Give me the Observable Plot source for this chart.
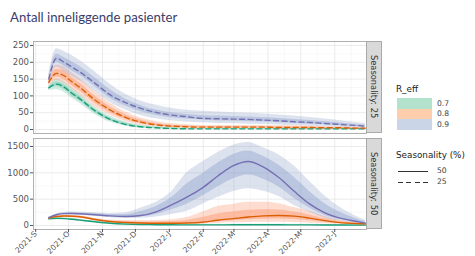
<!DOCTYPE html>
<html>
<head>
<meta charset="utf-8">
<script src="https://cdn.jsdelivr.net/npm/d3@7"></script>
<script src="https://cdn.jsdelivr.net/npm/@observablehq/plot@0.6"></script>
<style>
  html, body { margin: 0; padding: 0; background: #fff; }
  #wrap { position: relative; width: 475px; height: 256px; overflow: hidden; font-family: "DejaVu Sans", sans-serif; }
  .abs { position: absolute; }
  #title { left: 10px; top: 9px; font-family: "Lato", sans-serif; font-size: 13.2px; color: #3b3d6c; white-space: nowrap; }
  .strip { background: #d9d9d9; border: 1px solid #a9a9a9; box-sizing: border-box; writing-mode: vertical-rl; display: flex; align-items: center; justify-content: center; font-size: 8.3px; color: #333; }
  .lgtitle { font-size: 8.8px; color: #222; white-space: nowrap; }
  .lglab { font-size: 7.6px; color: #444; white-space: nowrap; }
  .sw { width: 35px; height: 10.7px; }
</style>
</head>
<body>
<div id="wrap"></div>
<script>
// ---- data ----
const dates = ["2021-09-13","2021-09-20","2021-09-27","2021-10-04","2021-10-11","2021-10-25","2021-11-08","2021-11-22","2021-12-06","2021-12-20","2022-01-03","2022-01-17","2022-01-31","2022-02-14","2022-02-28","2022-03-14","2022-03-28","2022-04-11","2022-04-25","2022-05-09","2022-05-23","2022-06-06","2022-06-20","2022-06-29"];
const seasonality = [25, 50];
const rEff = ["0.7", "0.8", "0.9"];
const lineColors = ["#1b9e77", "#d95f02", "#7570b3"];
const bandColors = ["#66c2a5", "#fc8d62", "#8da0cb"];
const legendColors = ["#b3e2cd", "#fdcdac", "#cbd5e8"];
const yTicksTop = [0, 50, 100, 150, 200, 250];
const yMinorTop = [25, 75, 125, 175, 225];
const yTicksBottom = [0, 500, 1000, 1500];
const yMinorBottom = [250, 750, 1250];
const xTickDates = ["2021-09-01","2021-10-01","2021-11-01","2021-12-01","2022-01-01","2022-02-01","2022-03-01","2022-04-01","2022-05-01","2022-06-01"];
const xTickLabels = ["2021-S","2021-O","2021-N","2021-D","2022-J","2022-F","2022-M","2022-A","2022-M","2022-J"];
const xMinorDates = ["2021-09-16","2021-10-16","2021-11-16","2021-12-16","2022-01-16","2022-02-15","2022-03-16","2022-04-16","2022-05-16","2022-06-16"];

// Seasonality 25
const s25_r07_med  = [124,135,126,108,92,56,30,15,8,5,3,2,2,2,2,2,2,2,2,2,2,2,2,2];
const s25_r07_hi90 = [130,150,142,124,107,68,40,22,13,9,6,5,4,4,4,4,4,4,4,4,4,3,3,3];
const s25_r07_lo90 = [116,118,110,93,78,45,22,10,4,2,1,1,1,0,0,0,0,0,0,0,0,0,0,0];
const s25_r07_hi50 = [127,142,134,116,100,62,35,19,10,7,4,3,3,3,3,3,3,3,3,3,3,3,3,3];
const s25_r07_lo50 = [120,128,118,100,85,50,26,12,6,3,2,1,1,1,1,1,1,1,1,1,1,1,1,1];

const s25_r08_med  = [140,167,160,142,126,88,58,36,22,14,10,8,7,7,7,7,7,6,6,6,5,5,4,4];
const s25_r08_hi90 = [150,192,186,168,152,112,78,52,34,23,17,14,12,12,12,12,12,11,11,10,9,8,7,6];
const s25_r08_lo90 = [130,145,137,120,104,68,42,24,13,8,5,4,3,3,3,3,3,2,2,2,2,2,1,1];
const s25_r08_hi50 = [145,179,173,155,139,100,68,44,28,18,13,11,9,9,9,9,9,8,8,8,7,6,5,5];
const s25_r08_lo50 = [135,156,148,131,115,78,50,30,17,11,7,6,5,5,5,5,5,4,4,4,3,3,3,3];

const s25_r09_med  = [150,212,200,186,172,138,103,80,63,51,43,38,33,32,31,30,28,26,23,21,18,15,12,10];
const s25_r09_hi90 = [165,240,232,220,206,172,135,105,85,72,63,57,54,52,50,48,46,43,40,36,31,26,21,18];
const s25_r09_lo90 = [138,185,172,158,146,112,80,58,42,32,26,22,20,18,17,16,15,13,12,10,9,7,6,5];
const s25_r09_hi50 = [156,224,214,202,188,154,118,90,71,58,50,45,42,40,39,37,35,33,30,27,23,19,15,13];
const s25_r09_lo50 = [145,200,188,175,162,128,93,70,53,42,35,31,28,26,25,24,22,20,18,16,14,11,9,7];

// Seasonality 50
const s50_r07_med  = [126,136,130,118,103,70,42,26,18,15,13,12,12,12,13,13,13,13,12,11,10,9,8,7];
const s50_r07_hi90 = [132,150,146,134,120,86,56,38,30,26,24,23,23,24,25,26,26,25,24,22,20,18,16,14];
const s50_r07_lo90 = [120,122,114,102,88,56,30,16,9,7,5,5,5,5,5,5,5,5,4,4,4,3,3,3];
const s50_r07_hi50 = [129,143,138,126,111,78,49,32,24,20,18,17,17,18,19,19,19,19,18,16,15,13,12,10];
const s50_r07_lo50 = [123,129,122,110,95,63,36,21,13,10,9,8,8,8,8,8,8,8,7,7,6,6,5,4];

const s50_r08_med  = [142,170,180,176,165,115,76,58,48,44,44,48,62,100,130,160,182,190,178,140,92,55,38,30];
const s50_r08_hi90 = [150,184,198,196,186,140,100,95,90,95,110,150,250,360,400,440,440,415,340,270,170,100,60,45];
const s50_r08_lo90 = [134,156,162,156,144,94,56,40,30,26,24,26,30,40,50,58,62,62,56,45,32,22,16,12];
const s50_r08_hi50 = [146,177,189,186,175,128,88,76,68,67,75,95,150,220,255,290,300,295,255,200,128,76,48,37];
const s50_r08_lo50 = [138,163,171,166,155,104,66,49,39,35,34,37,46,70,90,108,120,125,115,92,62,38,27,21];

const s50_r09_med  = [150,205,225,228,222,205,182,172,190,260,390,540,710,935,1130,1215,1110,910,650,410,240,140,80,45];
const s50_r09_hi90 = [158,220,246,254,252,244,228,240,330,440,640,1000,1200,1380,1520,1575,1470,1340,1130,840,560,340,180,100];
const s50_r09_lo90 = [142,190,204,204,194,172,146,135,140,160,210,270,400,530,640,700,650,550,380,250,140,85,50,30];
const s50_r09_hi50 = [154,213,236,242,238,226,207,209,267,360,530,790,980,1180,1345,1415,1310,1145,915,645,415,250,135,75];
const s50_r09_lo50 = [146,198,215,216,208,189,164,154,165,210,300,405,555,730,885,960,880,730,515,330,190,112,65,38];

const seriesTable = {
  25: {"0.7": [s25_r07_med, s25_r07_lo90, s25_r07_hi90, s25_r07_lo50, s25_r07_hi50],
       "0.8": [s25_r08_med, s25_r08_lo90, s25_r08_hi90, s25_r08_lo50, s25_r08_hi50],
       "0.9": [s25_r09_med, s25_r09_lo90, s25_r09_hi90, s25_r09_lo50, s25_r09_hi50]},
  50: {"0.7": [s50_r07_med, s50_r07_lo90, s50_r07_hi90, s50_r07_lo50, s50_r07_hi50],
       "0.8": [s50_r08_med, s50_r08_lo90, s50_r08_hi90, s50_r08_lo50, s50_r08_hi50],
       "0.9": [s50_r09_med, s50_r09_lo90, s50_r09_hi90, s50_r09_lo50, s50_r09_hi50]}
};

function rowsFor(s, r) {
  const [med, lo90, hi90, lo50, hi50] = seriesTable[s][r];
  return dates.map((d, i) => ({date: new Date(d), med: med[i], lo90: lo90[i], hi90: hi90[i], lo50: lo50[i], hi50: hi50[i]}));
}

const xDomain = [new Date("2021-08-30"), new Date("2022-06-30")];
const curve = "monotone-x";

function panel(s, cfg) {
  const marks = [
    Plot.ruleY(cfg.minor, {stroke: "#f3f3f3", strokeWidth: 0.6}),
    Plot.ruleX(xMinorDates.map(d => new Date(d)), {stroke: "#f3f3f3", strokeWidth: 0.6}),
    Plot.ruleY(cfg.ticks, {stroke: "#e6e6e6", strokeWidth: 0.8}),
    Plot.ruleX(xTickDates.map(d => new Date(d)), {stroke: "#e6e6e6", strokeWidth: 0.8})
  ];
  rEff.forEach((r, k) => {
    const rows = rowsFor(s, r);
    marks.push(Plot.areaY(rows, {x: "date", y1: "lo90", y2: "hi90", fill: bandColors[k], fillOpacity: 0.3, curve, clip: true}));
    marks.push(Plot.areaY(rows, {x: "date", y1: "lo50", y2: "hi50", fill: bandColors[k], fillOpacity: 0.42, curve, clip: true}));
  });
  rEff.forEach((r, k) => {
    const rows = rowsFor(s, r);
    marks.push(Plot.lineY(rows, {x: "date", y: "med", stroke: lineColors[k], strokeWidth: 1.4,
      strokeDasharray: s === 25 ? "5,3.5" : null, curve, clip: true}));
  });
  marks.push(Plot.frame({stroke: "#a9a9a9", strokeWidth: 0.9}));
  marks.push(Plot.axisY({ticks: cfg.ticks, tickFormat: d => String(d), tickSize: 3, tickPadding: 1.5, fontSize: 8.5, label: null, color: "#555"}));
  if (cfg.xaxis) {
    marks.push(Plot.axisX({ticks: xTickDates.map(d => new Date(d)), tickFormat: (d, i) => xTickLabels[i],
      tickRotate: -45, tickSize: 3, tickPadding: 0, fontSize: 7.7, label: null, color: "#555"}));
  }
  return Plot.plot({
    width: 370, height: cfg.height,
    marginLeft: 33, marginRight: 4, marginTop: cfg.mt, marginBottom: cfg.mb,
    x: {type: "utc", domain: xDomain, axis: cfg.xaxis ? undefined : null},
    y: {domain: cfg.domain, axis: null},
    style: {fontFamily: "DejaVu Sans", background: "transparent", color: "#555", overflow: "visible"},
    marks
  });
}

const wrap = document.getElementById("wrap");
function place(el, left, top) {
  const d = document.createElement("div");
  d.className = "abs"; d.style.left = left + "px"; d.style.top = top + "px";
  d.appendChild(el); wrap.appendChild(d); return d;
}

place(panel(25, {height: 98, mt: 5, mb: 1, domain: [-11.9, 261.9], ticks: yTicksTop, minor: yMinorTop, xaxis: false}), 0, 36);
place(panel(50, {height: 122, mt: 4, mb: 27, domain: [-76, 1652], ticks: yTicksBottom, minor: yMinorBottom, xaxis: true}), 0, 134);

function div(cls, text, css) {
  const d = document.createElement("div");
  d.className = "abs " + cls; if (text != null) d.textContent = text;
  Object.assign(d.style, css); wrap.appendChild(d); return d;
}

div("", "Antall inneliggende pasienter", {}).id = "title";
div("strip", "Seasonality: " + seasonality[0], {left: "366px", top: "41px", width: "16px", height: "92px"});
div("strip", "Seasonality: " + seasonality[1], {left: "366px", top: "138px", width: "16px", height: "91px"});

// legend R_eff
div("lgtitle", "R_eff", {left: "396px", top: "84px"});
rEff.forEach((r, k) => {
  div("sw", null, {left: "397px", top: (98 + k * 10.7) + "px", background: legendColors[k]});
  div("lglab", r, {left: "437px", top: (98.5 + k * 10.7) + "px"});
});
// legend Seasonality
div("lgtitle", "Seasonality (%)", {left: "396px", top: "150px"});
div("", null, {left: "398px", top: "170.5px", width: "30px", height: "1.3px", background: "#333"});
div("lglab", String(seasonality[1]), {left: "437px", top: "165.5px"});
div("", null, {left: "398px", top: "181.5px", width: "30px", height: "1.3px",
  background: "repeating-linear-gradient(to right, #333 0 5px, transparent 5px 8.5px)"});
div("lglab", String(seasonality[0]), {left: "437px", top: "176.5px"});
</script>
</body>
</html>
